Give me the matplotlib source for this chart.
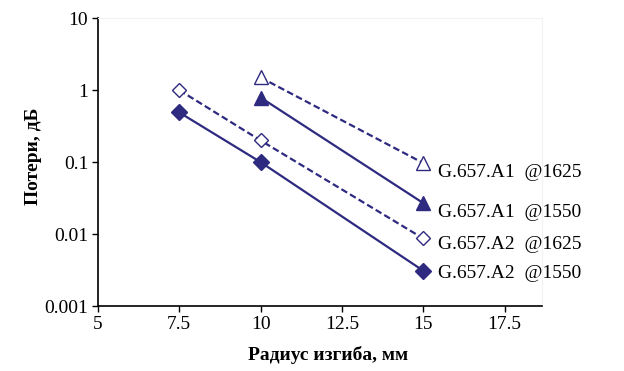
import numpy as np
import matplotlib.pyplot as plt

# Данные
x_a2 = np.array([7.5, 10, 15])
a2_1550 = np.array([0.49, 0.1, 0.0031])
a2_1625 = np.array([1.0, 0.2, 0.0087])
x_a1 = np.array([10, 15])
a1_1550 = np.array([0.79, 0.027])
a1_1625 = np.array([1.5, 0.097])
labels = ["G.657.A1  @1625", "G.657.A1  @1550", "G.657.A2  @1625", "G.657.A2  @1550"]

color = "#2e2a80"
plt.rcParams['font.family'] = ['Liberation Serif', 'DejaVu Serif']

fig = plt.figure(figsize=(6.24, 3.71), dpi=100)
ax = fig.add_axes([0.157, 0.175, 0.712, 0.776])

ax.plot(x_a2, a2_1550, color=color, lw=1.6, marker="D", ms=8, mfc=color, mec=color)
ax.plot(x_a2, a2_1625, color=color, lw=1.6, ls=(0, (3, 1.5)), marker="D", ms=7.5, mfc="white", mec=color, mew=1)
ax.plot(x_a1, a1_1550, color=color, lw=1.6, marker="^", ms=10, mfc=color, mec=color)
ax.plot(x_a1, a1_1625, color=color, lw=1.6, ls=(0, (3, 1.5)), marker="^", ms=10, mfc="white", mec=color, mew=1)

# Подписи серий справа от последних точек (чуть ниже маркера)
ends = [a1_1625[-1], a1_1550[-1], a2_1625[-1], a2_1550[-1]]
shift = [-7, -7, -4, -2]
for lab, yv, dy in zip(labels, ends, shift):
    ax.annotate(lab, (15.45, yv), xytext=(0, dy), textcoords="offset points",
                fontsize=14, va="center", ha="left")

ax.set_yscale("log")
ax.set_ylim(0.001, 10)
ax.set_xlim(5, 18.66)
ax.set_xticks([5, 7.5, 10, 12.5, 15, 17.5])
ax.set_xticklabels(["5", "7.5", "10", "12.5", "15", "17.5"])
ax.set_yticks([0.001, 0.01, 0.1, 1, 10])
ax.set_yticklabels(["0.001", "0.01", "0.1", "1", "10"])
ax.minorticks_off()
ax.tick_params(labelsize=14, length=4, width=1, direction="out", pad=3)

for s in ["top", "right"]:
    ax.spines[s].set_color("#f2f2f2")
    ax.spines[s].set_linewidth(0.8)
for s in ["left", "bottom"]:
    ax.spines[s].set_linewidth(1.2)

ax.set_xlabel("Радиус изгиба, мм", fontsize=14, fontweight="bold")
ax.set_ylabel("Потери, дБ", fontsize=14, fontweight="bold")
ax.xaxis.set_label_coords(0.518, -0.14)
ax.yaxis.set_label_coords(-0.127, 0.52)

fig.savefig("out.png", dpi=100)
